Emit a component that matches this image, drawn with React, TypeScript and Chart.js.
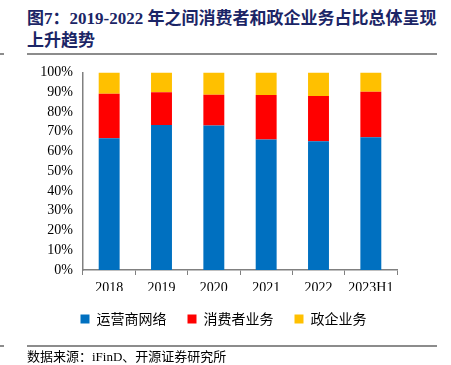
import React, { useEffect, useRef } from "react";
import { Chart, registerables } from "chart.js";

Chart.register(...registerables);

const categories = ["2018", "2019", "2020", "2021", "2022", "2023H1"];
const carrierNetwork = [66.7, 73.4, 73.1, 66.0, 65.2, 67.2];
const consumerBusiness = [22.5, 16.5, 15.6, 22.5, 22.8, 23.0];
const enterpriseBusiness = [10.8, 10.1, 11.3, 11.5, 12.0, 9.8];
const seriesNames = ["运营商网络", "消费者业务", "政企业务"];
const yTicks = [0, 10, 20, 30, 40, 50, 60, 70, 80, 90, 100];

const legendShift = {
  id: "legendShift",
  afterLayout(chart: any) {
    if (chart.legend) {
      chart.legend.left += 25;
      chart.legend.right += 25;
    }
  },
};

export default function App() {
  const ref = useRef<HTMLCanvasElement | null>(null);

  useEffect(() => {
    if (!ref.current) return;
    const chart = new Chart(ref.current, {
      type: "bar",
      data: {
        labels: categories,
        datasets: [
          { label: seriesNames[0], data: carrierNetwork, backgroundColor: "#0070C0" },
          { label: seriesNames[1], data: consumerBusiness, backgroundColor: "#FF0000" },
          { label: seriesNames[2], data: enterpriseBusiness, backgroundColor: "#FFC000" },
        ],
      },
      plugins: [legendShift],
      options: {
        animation: false,
        responsive: false,
        maintainAspectRatio: false,
        layout: { padding: { left: 0, right: 54, top: 0, bottom: 0 } },
        datasets: { bar: { categoryPercentage: 1, barPercentage: 0.4 } },
        plugins: {
          legend: {
            position: "bottom",
            labels: {
              boxWidth: 9,
              boxHeight: 9,
              padding: 21,
              color: "#000",
              font: { family: "'Noto Sans CJK SC'", size: 14 },
            },
          },
          tooltip: { enabled: false },
        },
        scales: {
          x: {
            stacked: true,
            afterFit: (s: any) => {
              s.height = 21;
            },
            grid: {
              display: true,
              drawOnChartArea: false,
              drawTicks: true,
              tickLength: 5,
              color: "#808080",
              offset: true,
            },
            border: { color: "#808080", width: 1.5 },
            ticks: {
              color: "#000",
              padding: 5,
              maxRotation: 0,
              autoSkip: false,
              font: { family: "'Liberation Serif'", size: 14 },
            },
          },
          y: {
            stacked: true,
            min: 0,
            max: 100,
            afterFit: (s: any) => {
              s.width = 83;
            },
            afterBuildTicks: (s: any) => {
              s.ticks = yTicks.map((v) => ({ value: v }));
            },
            grid: { display: false, drawTicks: false },
            border: { color: "#808080", width: 1.5 },
            ticks: {
              color: "#000",
              padding: 10,
              autoSkip: false,
              callback: (v: any) => v + "%",
              font: { family: "'Liberation Serif'", size: 14 },
            },
          },
        },
      },
    });
    return () => chart.destroy();
  }, []);

  return (
    <div style={{ position: "fixed", left: 0, top: 0, width: 451, height: 365, background: "#fff" }}>
      <div
        style={{
          position: "absolute",
          left: 27,
          top: 8,
          width: 415,
          fontFamily: "'Liberation Serif', 'Noto Sans CJK SC'",
          fontWeight: "bold",
          fontSize: 17,
          lineHeight: "22px",
          color: "#1b2566",
        }}
      >
        图7：2019-2022 年之间消费者和政企业务占比总体呈现上升趋势
      </div>
      <div style={{ position: "absolute", left: 0, top: 53, width: 4, height: 2, background: "#8c8c8c" }} />
      <div style={{ position: "absolute", left: 27, top: 53, width: 410, height: 2, background: "#8c8c8c" }} />
      <canvas ref={ref} width={451} height={282} style={{ position: "absolute", left: 0, top: 54 }} />
      <div style={{ position: "absolute", left: 0, top: 345, width: 4, height: 2, background: "#8c8c8c" }} />
      <div style={{ position: "absolute", left: 27, top: 345, width: 410, height: 2, background: "#8c8c8c" }} />
      <div
        style={{
          position: "absolute",
          left: 27,
          top: 348,
          fontFamily: "'Liberation Serif', 'Noto Sans CJK SC'",
          fontSize: 13,
          lineHeight: "18px",
          color: "#000",
        }}
      >
        数据来源：iFinD、开源证券研究所
      </div>
    </div>
  );
}
